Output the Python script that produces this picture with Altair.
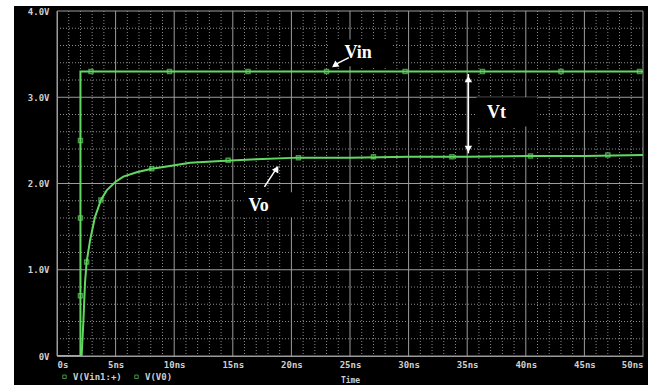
import altair as alt
import pandas as pd

# --- series values -------------------------------------------------------
vin_t = [0.0, 2.0, 2.0, 50.0]
vin_v = [0.0, 0.0, 3.3, 3.3]

vo_t = [0.0, 2.1, 2.25, 2.39, 2.53, 2.82, 3.24, 3.75, 4.24, 5.0, 5.66, 6.8,
        8.08, 9.5, 11.35, 14.0, 17.0, 20.6, 25.0, 30.0, 35.0, 40.0, 45.0, 50.0]
vo_v = [0.0, 0.0, 0.4, 0.85, 1.09, 1.34, 1.61, 1.81, 1.92, 2.02, 2.08, 2.13,
        2.17, 2.20, 2.24, 2.26, 2.28, 2.30, 2.30, 2.31, 2.31, 2.32, 2.32, 2.33]

# sample markers along each trace
vin_mark_t = [2.0, 2.0, 2.0, 2.9, 9.6, 16.3, 23.0, 29.7, 36.3, 43.0, 49.7]
vin_mark_v = [0.7, 1.6, 2.5, 3.3, 3.3, 3.3, 3.3, 3.3, 3.3, 3.3, 3.3]
vo_mark_t = [2.53, 3.75, 8.08, 14.6, 20.6, 27.0, 33.7, 40.4, 47.0]
vo_mark_v = [1.09, 1.81, 2.17, 2.27, 2.30, 2.31, 2.31, 2.32, 2.33]

series_names = ["V(Vin1:+)", "V(V0)"]

# --- axis ticks and grid -------------------------------------------------
x_minor = list(range(0, 51))
x_major = [0, 5, 10, 15, 20, 25, 30, 35, 40, 45, 50]
x_labels = ["0s", "5ns", "10ns", "15ns", "20ns", "25ns", "30ns", "35ns",
            "40ns", "45ns", "50ns"]
y_minor = [round(i * 0.2, 1) for i in range(0, 21)]
y_major = [0, 1, 2, 3, 4]
y_labels = ["0V", "1.0V", "2.0V", "3.0V", "4.0V"]

# --- annotations ---------------------------------------------------------
box_t1 = [23.3, 35.8, 15.9]
box_t2 = [28.5, 41.0, 20.9]
box_v1 = [3.36, 2.66, 1.61]
box_v2 = [3.67, 3.00, 1.90]
note_text = ["Vin", "Vt", "Vo"]
note_t = [25.7, 37.5, 17.2]
note_v = [3.51, 2.82, 1.74]

arrow_t1 = [24.9, 17.7, 35.1]
arrow_v1 = [3.46, 1.96, 3.27]
arrow_t2 = [23.6, 18.8, 35.1]
arrow_v2 = [3.37, 2.19, 2.35]
head_t = [23.7, 18.75, 35.1, 35.1]
head_v = [3.37, 2.17, 3.21, 2.40]
head_angle = [236, 31, 0, 180]

GREEN = "#62d862"
MONO = "DejaVu Sans Mono"
LABEL = "#cfcfcf"


def tick_expr(values, labels):
    expr = "''"
    for v, lab in zip(reversed(values), reversed(labels)):
        expr = f"(abs(datum.value - {v}) < 0.001 ? '{lab}' : {expr})"
    return expr


x_scale = alt.Scale(domain=[0, 50], nice=False, zero=False)
y_scale = alt.Scale(domain=[0, 4], nice=False, zero=False)

x_axis = alt.Axis(
    values=x_major, labelExpr=tick_expr(x_major, x_labels), labelOverlap=False,
    labelFlush=True, ticks=False, grid=False, domainColor="#9a9a9a",
    labelColor=LABEL, labelFont=MONO, labelFontSize=9, labelFontWeight="bold",
    labelPadding=4, title="Time", titleFont=MONO, titleFontSize=8,
    titleColor=LABEL, titleY=20, titleBaseline="top",
)
y_axis = alt.Axis(
    values=y_major, labelExpr=tick_expr(y_major, y_labels), labelOverlap=False,
    ticks=False, grid=False, domainColor="#9a9a9a", labelColor=LABEL,
    labelFont=MONO, labelFontSize=9, labelFontWeight="bold", labelPadding=8,
    title=None,
)


def xq(field):
    return alt.X(field, scale=x_scale, axis=x_axis)


def yq(field):
    return alt.Y(field, scale=y_scale, axis=y_axis)


traces = pd.DataFrame({
    "t": vin_t + vo_t,
    "v": vin_v + vo_v,
    "series": [series_names[0]] * len(vin_t) + [series_names[1]] * len(vo_t),
    "idx": list(range(len(vin_t))) + list(range(len(vo_t))),
})
markers = pd.DataFrame({
    "t": vin_mark_t + vo_mark_t,
    "v": vin_mark_v + vo_mark_v,
    "series": [series_names[0]] * len(vin_mark_t) + [series_names[1]] * len(vo_mark_t),
})
boxes = pd.DataFrame({"t1": box_t1, "t2": box_t2, "v1": box_v1, "v2": box_v2})
notes = pd.DataFrame({"t": note_t, "v": note_v, "text": note_text})
arrows = pd.DataFrame({"t1": arrow_t1, "v1": arrow_v1, "t2": arrow_t2, "v2": arrow_v2})
heads = pd.DataFrame({"t": head_t, "v": head_v, "angle": head_angle})

xg_minor = pd.DataFrame({"t": [t for t in x_minor if t not in x_major]})
xg_major = pd.DataFrame({"t": x_major})
yg_minor = pd.DataFrame({"v": [v for v in y_minor if v not in y_major]})
yg_major = pd.DataFrame({"v": y_major})

# grid: dotted minor lines, solid major lines
x_minor_grid = alt.Chart(xg_minor).mark_rule(
    color="#8c8c8c", strokeWidth=1, strokeDash=[1, 2]
).encode(x=xq("t:Q"))
y_minor_grid = alt.Chart(yg_minor).mark_rule(
    color="#8c8c8c", strokeWidth=1, strokeDash=[1, 2]
).encode(y=yq("v:Q"))
x_major_grid = alt.Chart(xg_major).mark_rule(color="#9c9c9c", strokeWidth=1).encode(
    x=xq("t:Q")
)
y_major_grid = alt.Chart(yg_major).mark_rule(color="#9c9c9c", strokeWidth=1).encode(
    y=yq("v:Q")
)

color = alt.Color(
    "series:N",
    scale=alt.Scale(domain=series_names, range=[GREEN, GREEN]),
    legend=alt.Legend(
        orient="none", legendX=3, legendY=361, direction="horizontal", title=None,
        symbolType="square", symbolSize=12, symbolStrokeWidth=1,
        symbolFillColor=GREEN, labelFont=MONO, labelFontSize=9,
        labelColor=LABEL, labelFontWeight="bold", columnPadding=10, padding=0,
    ),
)

lines = alt.Chart(traces).mark_line(strokeWidth=2, clip=True).encode(
    x=xq("t:Q"), y=yq("v:Q"), color=color, order="idx:Q", detail="series:N"
)
points = alt.Chart(markers).mark_point(
    shape="square", size=16, strokeWidth=1.5, filled=False
).encode(x=xq("t:Q"), y=yq("v:Q"), color=color)

label_boxes = alt.Chart(boxes).mark_rect(color="black").encode(
    x=xq("t1:Q"), x2="t2", y=yq("v1:Q"), y2="v2"
)
arrow_lines = alt.Chart(arrows).mark_rule(color="white", strokeWidth=1.5).encode(
    x=xq("t1:Q"), y=yq("v1:Q"), x2="t2", y2="v2"
)
arrow_heads = alt.Chart(heads).mark_point(
    shape="triangle-up", filled=True, color="white", size=55, opacity=1
).encode(x=xq("t:Q"), y=yq("v:Q"), angle=alt.Angle("angle:Q", scale=None))
note_labels = alt.Chart(notes).mark_text(
    font="Liberation Serif", fontWeight="bold", fontSize=18, color="white"
).encode(x=xq("t:Q"), y=yq("v:Q"), text="text:N")

# white margin strips at the top and left edges of the frame
strip = pd.DataFrame({"k": [0]})
left_strip = alt.Chart(strip).mark_rect(color="white").encode(
    x=alt.value(-57), x2=alt.value(-43), y=alt.value(-11), y2=alt.value(374)
)
top_strip = alt.Chart(strip).mark_rect(color="white").encode(
    x=alt.value(-57), x2=alt.value(591), y=alt.value(-11), y2=alt.value(-5)
)

chart = alt.layer(
    x_minor_grid, y_minor_grid, x_major_grid, y_major_grid,
    label_boxes, lines, points, arrow_lines, arrow_heads, note_labels,
    left_strip, top_strip,
).properties(
    width=586, height=345,
    autosize=alt.AutoSizeParams(type="none"),
    padding={"left": 57, "top": 11, "right": 5, "bottom": 29},
    background="black",
).configure_view(stroke=None)

chart.save("out.html", embed_options={"renderer": "svg", "actions": False})
